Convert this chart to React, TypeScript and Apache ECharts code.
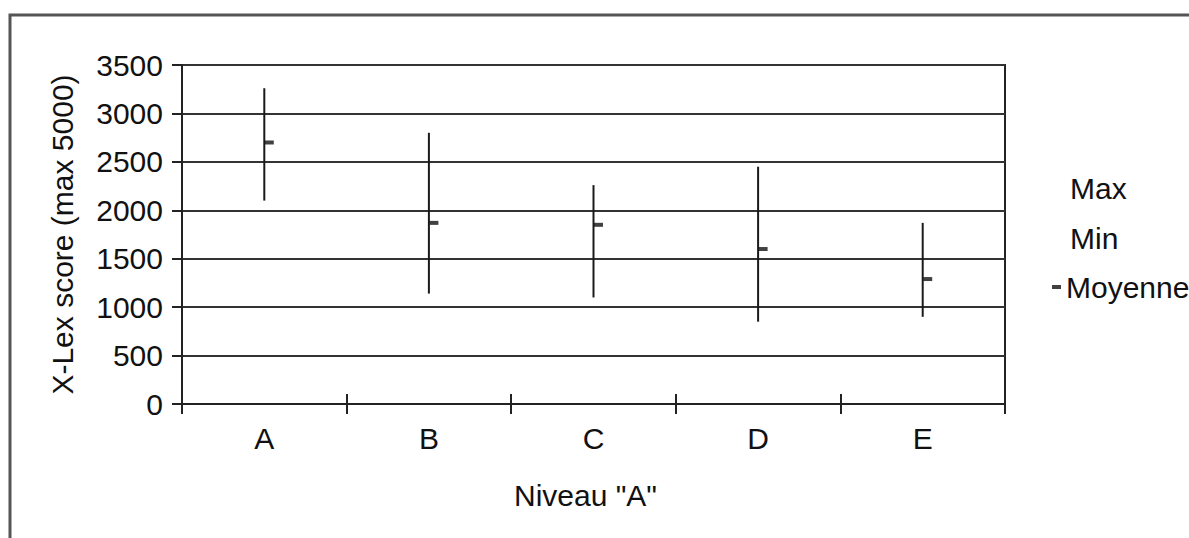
import React, { useEffect, useRef } from "react";
import * as echarts from "echarts";

const categories = ["A", "B", "C", "D", "E"];
const maxValues = [3260, 2800, 2260, 2450, 1870];
const minValues = [2100, 1140, 1100, 850, 900];
const meanValues = [2700, 1870, 1850, 1600, 1290];
const yAxisMin = 0;
const yAxisMax = 3500;
const yAxisStep = 500;
const yAxisTitle = "X-Lex score (max 5000)";
const xAxisTitle = 'Niveau "A"';

const FONT = "Liberation Sans, Arial, Helvetica, sans-serif";
const FS = 30;

export default function App() {
  const ref = useRef<HTMLDivElement>(null);
  useEffect(() => {
    if (!ref.current) return;
    const chart = echarts.init(ref.current, null, { renderer: "svg" });
    const rangeData = categories.map((_, i) => [i, minValues[i], maxValues[i]]);
    const legendText = { fontSize: FS, color: "#111", fontFamily: FONT };
    chart.setOption({
      animation: false,
      backgroundColor: "#ffffff",
      textStyle: { fontFamily: FONT, color: "#111" },
      grid: { left: 182, right: 184, top: 65, bottom: 134, show: true, borderColor: "#222", borderWidth: 2, backgroundColor: "transparent" },
      graphic: [
        {
          type: "rect",
          shape: { x: 10, y: 15, width: 1400, height: 700 },
          style: { fill: "none", stroke: "#555", lineWidth: 3 },
          silent: true,
        },
      ],
      legend: [
        {
          orient: "vertical",
          left: 1056,
          top: 173,
          padding: 0,
          itemWidth: 9,
          itemHeight: 4,
          itemGap: 20,
          textStyle: legendText,
          data: [
            { name: "Max", icon: "rect", itemStyle: { opacity: 0 } },
            { name: "Min", icon: "rect", itemStyle: { opacity: 0 } },
          ],
        },
        {
          orient: "vertical",
          left: 1052,
          top: 272,
          padding: 0,
          itemWidth: 9,
          itemHeight: 4,
          itemGap: 20,
          textStyle: legendText,
          data: [{ name: "Moyenne", icon: "rect" }],
        },
      ],
      xAxis: [
        {
          type: "category",
          data: categories,
          boundaryGap: true,
          axisLine: { show: true, lineStyle: { color: "#222", width: 2 } },
          axisTick: { show: true, inside: false, length: 10, lineStyle: { color: "#222", width: 2 } },
          axisLabel: { fontSize: FS, color: "#111", margin: 19, fontFamily: FONT },
          splitLine: { show: false },
          name: xAxisTitle,
          nameLocation: "middle",
          nameGap: 76,
          nameTextStyle: { fontSize: FS, color: "#111", fontFamily: FONT, padding: [0, 16, 0, 0] },
        },
        {
          type: "category",
          data: categories,
          position: "bottom",
          boundaryGap: true,
          axisLine: { show: false },
          axisTick: { show: true, inside: true, length: 10, lineStyle: { color: "#222", width: 2 } },
          axisLabel: { show: false },
          splitLine: { show: false },
        },
      ],
      yAxis: {
        type: "value",
        min: yAxisMin,
        max: yAxisMax,
        interval: yAxisStep,
        axisLine: { show: true, lineStyle: { color: "#222", width: 2 } },
        axisTick: { show: true, inside: false, length: 10, lineStyle: { color: "#222", width: 2 } },
        axisLabel: { fontSize: FS, color: "#111", margin: 19, fontFamily: FONT, formatter: (v: number) => String(v) },
        splitLine: { show: true, lineStyle: { color: "#333", width: 2 } },
        name: yAxisTitle,
        nameLocation: "middle",
        nameGap: 105,
        nameTextStyle: { fontSize: FS, color: "#111", fontFamily: FONT },
      },
      series: [
        {
          type: "custom",
          name: "Range",
          data: rangeData,
          encode: { x: 0, y: [1, 2] },
          renderItem: (params: any, api: any) => {
            const p1 = api.coord([api.value(0), api.value(1)]);
            const p2 = api.coord([api.value(0), api.value(2)]);
            return {
              type: "line",
              shape: { x1: p1[0], y1: p1[1], x2: p2[0], y2: p2[1] },
              style: { stroke: "#1a1a1a", lineWidth: 2 },
            };
          },
          z: 3,
        },
        {
          type: "scatter",
          name: "Max",
          data: maxValues,
          symbolSize: 0,
          itemStyle: { color: "rgba(0,0,0,0)" },
        },
        {
          type: "scatter",
          name: "Min",
          data: minValues,
          symbolSize: 0,
          itemStyle: { color: "rgba(0,0,0,0)" },
        },
        {
          type: "scatter",
          name: "Moyenne",
          data: meanValues,
          symbol: "rect",
          symbolSize: [9, 4],
          symbolOffset: [5, 0],
          itemStyle: { color: "#111" },
          z: 4,
        },
      ],
    });
    return () => chart.dispose();
  }, []);
  return (
    <div
      ref={ref}
      style={{ position: "fixed", left: 0, top: 0, width: 1189, height: 538, background: "#fff" }}
    />
  );
}
